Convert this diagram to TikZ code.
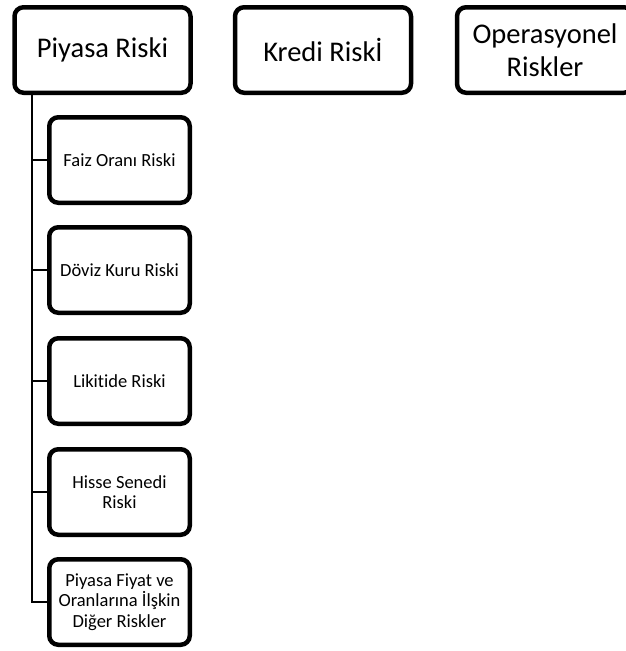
\documentclass[tikz,border=0pt]{standalone}
\usepackage{fontspec}
\setmainfont{Carlito}[Ligatures=NoCommon]
\begin{document}
\begin{tikzpicture}[x=1pt,y=-1pt,
  topbox/.style={draw, line width=4.5pt, rounded corners=9pt, minimum width=176pt, minimum height=85.5pt, align=center, font=\fontsize{28.5}{33}\selectfont, inner sep=0pt},
  subbox/.style={draw, line width=4.5pt, rounded corners=9pt, minimum width=140.5pt, minimum height=85.5pt, align=center, font=\fontsize{18.5}{20.5}\selectfont, inner sep=0pt},
  conn/.style={line width=2pt}]
\useasboundingbox (0,0) rectangle (625,651);
\node[topbox] (piyasa) at (102.5,50) {Piyasa Riski};
\node[topbox] (kredi) at (323,50) {Kredi Riskİ};
\node[topbox] (oper) at (545,50) {Operasyonel\\Riskler};
\node[subbox] (c1) at (119.5,160) {Faiz Oranı Riski};
\node[subbox] (c2) at (119.5,270) {Döviz Kuru Riski};
\node[subbox] (c3) at (119.5,381) {Likitide Riski};
\node[subbox] (c4) at (119.5,492) {Hisse Senedi\\Riski};
\node[subbox] (c5) at (119.5,602) {Piyasa Fiyat ve\\Oranlarına İlşkin\\Diğer Riskler};
\coordinate (trunk) at (32,95);
\draw[conn] (trunk) |- (c5.west);
\foreach \c in {c1,c2,c3,c4}{
  \draw[conn] (\c.west -| trunk) -- (\c.west);
}
\end{tikzpicture}
\end{document}
